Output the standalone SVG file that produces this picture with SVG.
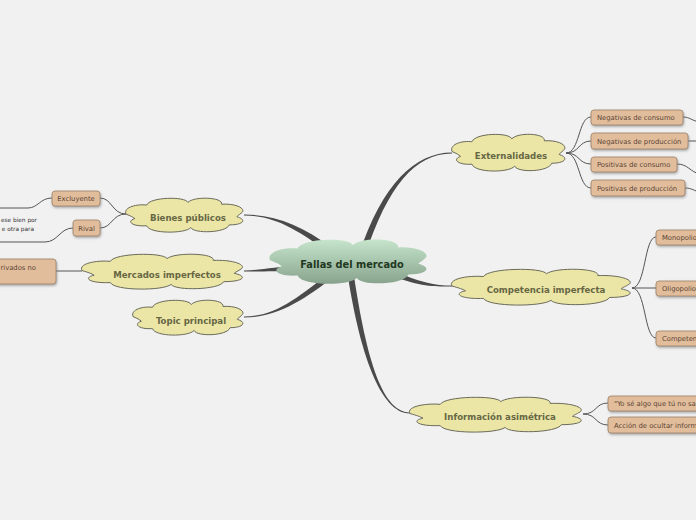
<svg xmlns="http://www.w3.org/2000/svg" width="696" height="520" viewBox="0 0 696 520">
<style>
.bg{fill:#f1f1f1}
.main{fill:#4a4a4a}
.sub{fill:none;stroke:#555;stroke-width:1}
.cloud{fill:#ebe6a6;stroke:#6a6a5a;stroke-width:1}
.ccloud{fill:url(#gc);stroke:none}
.ct{font-family:"DejaVu Sans",Verdana,sans-serif;font-weight:bold;font-size:8.6px;fill:#676744;text-anchor:middle}
.mt{font-family:"DejaVu Sans",Verdana,sans-serif;font-weight:bold;font-size:9.8px;fill:#22381f;text-anchor:middle}
.box{fill:#e2bd9c;stroke:#9c8268;stroke-width:0.8;filter:url(#sh)}
.bt{font-family:"DejaVu Sans",Verdana,sans-serif;font-size:6.8px;fill:#5a4535}
.lt{font-family:"DejaVu Sans",Verdana,sans-serif;font-size:5.8px;fill:#333;text-anchor:end}
</style>
<defs>
<linearGradient id="gc" x1="0" y1="0" x2="0" y2="1">
<stop offset="0" stop-color="#c6e5cb"/>
<stop offset="1" stop-color="#88a38d"/>
</linearGradient>
<filter id="sh" x="-20%" y="-30%" width="140%" height="180%">
<feDropShadow dx="0.8" dy="1.5" stdDeviation="0.8" flood-color="#777" flood-opacity="0.6"/>
</filter>
<path id="cl" vector-effect="non-scaling-stroke" d="M -1,-0.05 C -1.05,-0.45 -0.8,-0.62 -0.65,-0.55 C -0.6,-1.0 0.0,-1.05 0.05,-0.7 C 0.15,-1.05 0.65,-1.0 0.62,-0.6 C 0.9,-0.65 1.05,-0.3 0.95,-0.1 C 0.92,0.0 0.88,0.05 0.88,0.1 C 1.05,0.25 1.0,0.55 0.75,0.55 C 0.7,1.0 0.15,1.05 0.1,0.7 C 0.0,1.05 -0.6,1.05 -0.65,0.6 C -0.9,0.65 -1.0,0.35 -0.85,0.2 C -0.88,0.12 -0.92,0.05 -1,-0.05 Z"/>
</defs>
<rect class="bg" x="0" y="0" width="696" height="520"/>
<g id="connectors">
<path class="main" d="M 364.9,255.9 C 387.9,185.9 415,153.5 452,153.5 L 452,152.5 C 415,152.5 382.1,184.1 359.1,254.1 Z"/>
<path class="main" d="M 389.1,274.3 C 419,287.3 435,286.5 452,286.5 L 452,285.5 C 435,285.5 421,282.7 390.9,269.7 Z"/>
<path class="main" d="M 352.97,269.55 C 364.97,349.55 380,412.5 410,412.5 L 410,413.5 C 380,413.5 359,350.45 347.03,270.45 Z"/>
<path class="main" d="M 331.77,247.57 C 301.77,225.57 275,214.5 244,214.5 L 244,215.5 C 275,215.5 298.23,230.43 328.23,252.43 Z"/>
<path class="main" d="M 300,265.5 C 275,266.5 260,270.5 244,270.5 L 244,271.5 C 260,271.5 275,271.5 300,270.5 Z"/>
<path class="main" d="M 333.14,269.66 C 298.14,297.66 275,316.5 244,316.5 L 244,317.5 C 275,317.5 301.86,302.34 336.86,274.34 Z"/>
<path class="sub" d="M566,153 C580,153 578,117 591,117"/>
<path class="sub" d="M566,153 C580,153 578,141 591,141"/>
<path class="sub" d="M566,153 C580,153 578,164 591,164"/>
<path class="sub" d="M566,153 C580,153 578,188 591,188"/>
<path class="sub" d="M683,117 C690,117 692,121 700,122"/>
<path class="sub" d="M688,141 L700,141"/>
<path class="sub" d="M677,164 C688,164 690,172 700,174"/>
<path class="sub" d="M685,188 C692,188 694,191 700,192"/>
<path class="sub" d="M632,288 C646,288 644,237 656,237"/>
<path class="sub" d="M632,288 L656,288"/>
<path class="sub" d="M632,288 C646,288 644,338 656,338"/>
<path class="sub" d="M583,414 C597,414 595,403 608,403"/>
<path class="sub" d="M583,414 C597,414 595,425 608,425"/>
<path class="sub" d="M126,214 C112,214 112,198 100,198"/>
<path class="sub" d="M126,214 C112,214 112,228 100,228"/>
<path class="sub" d="M52,198 C40,198 38,208 28,208 L-5,208"/>
<path class="sub" d="M73,228 C60,228 58,242 45,242 L-5,242"/>
<path class="sub" d="M56,271 L82,271"/>
</g>
<g id="central"><use href="#cl" class="ccloud" transform="translate(349,261.5) scale(79,23.5)"/><text class="mt" x="352" y="268">Fallas del mercado</text></g>
<g id="externalidades"><use href="#cl" class="cloud" transform="translate(509,152.5) scale(57,19.5)"/><text class="ct" x="511" y="159">Externalidades</text></g>
<g id="competencia"><use href="#cl" class="cloud" transform="translate(542,287) scale(90,19)"/><text class="ct" x="546" y="293">Competencia imperfecta</text></g>
<g id="informacion"><use href="#cl" class="cloud" transform="translate(496.5,414.5) scale(86.5,18.5)"/><text class="ct" x="500" y="420">Información asimétrica</text></g>
<g id="bienes"><use href="#cl" class="cloud" transform="translate(185,215) scale(59,18)"/><text class="ct" x="188" y="221">Bienes públicos</text></g>
<g id="mercados"><use href="#cl" class="cloud" transform="translate(163,271.5) scale(81,18.5)"/><text class="ct" x="167" y="278">Mercados imperfectos</text></g>
<g id="topic"><use href="#cl" class="cloud" transform="translate(188.5,317.5) scale(55.5,18.5)"/><text class="ct" x="191" y="324">Topic principal</text></g>
<g id="neg-consumo"><rect class="box" x="591" y="110" width="92" height="15" rx="3"/><text class="bt" x="597" y="120">Negativas de consumo</text></g>
<g id="neg-produccion"><rect class="box" x="591" y="133" width="97" height="16" rx="3"/><text class="bt" x="597" y="144">Negativas de producción</text></g>
<g id="pos-consumo"><rect class="box" x="591" y="157" width="86" height="15" rx="3"/><text class="bt" x="597" y="167">Positivas de consumo</text></g>
<g id="pos-produccion"><rect class="box" x="591" y="180" width="94" height="16" rx="3"/><text class="bt" x="597" y="191">Positivas de producción</text></g>
<g id="monopolio"><rect class="box" x="656" y="230" width="60" height="15" rx="3"/><text class="bt" x="662" y="240">Monopolio</text></g>
<g id="oligopolio"><rect class="box" x="656" y="281" width="60" height="15" rx="3"/><text class="bt" x="662" y="291">Oligopolio</text></g>
<g id="competencia-m"><rect class="box" x="656" y="331" width="60" height="15" rx="3"/><text class="bt" x="662" y="341">Competen</text></g>
<g id="yo-se"><rect class="box" x="608" y="396" width="100" height="15" rx="3"/><text class="bt" x="614" y="406">"Yo sé algo que tú no sa</text></g>
<g id="accion"><rect class="box" x="608" y="417" width="100" height="16" rx="3"/><text class="bt" x="614" y="428">Acción de ocultar inform</text></g>
<g id="excluyente"><rect class="box" x="52" y="191" width="48" height="15" rx="3"/><text class="bt" x="76" y="201" text-anchor="middle">Excluyente</text></g>
<g id="rival"><rect class="box" x="73" y="220" width="27" height="16" rx="3"/><text class="bt" x="86.5" y="231" text-anchor="middle">Rival</text></g>
<g id="rival-child"><text class="lt" x="37" y="221.5">ese bien por</text><text class="lt" x="34" y="230.5">e otra para</text></g>
<g id="privados"><rect class="box" x="-10" y="259" width="66" height="25" rx="3"/><text class="bt" x="36" y="270" text-anchor="end">rivados no</text></g>
</svg>
